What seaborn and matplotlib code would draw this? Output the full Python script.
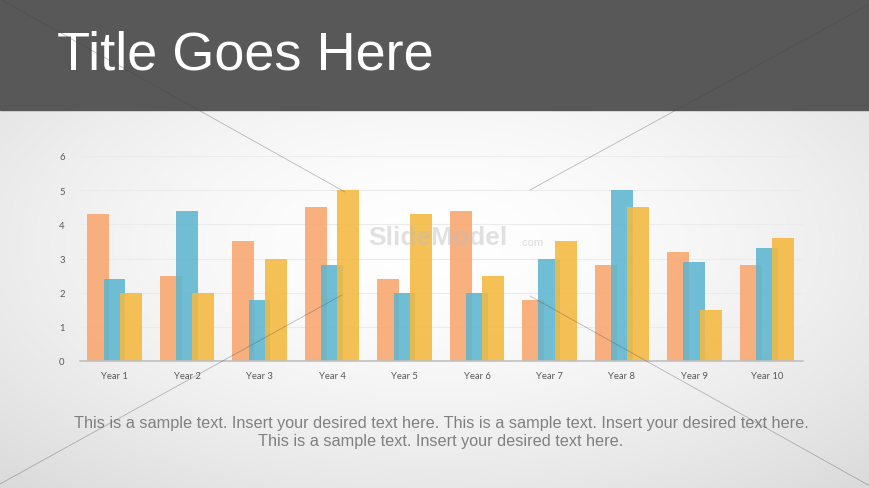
import matplotlib
matplotlib.use("Agg")
import matplotlib.pyplot as plt
from matplotlib.patches import Rectangle
from matplotlib.lines import Line2D
import numpy as np
import pandas as pd
import seaborn as sns

sns.set_theme(style="white")
plt.rcParams['font.family'] = ['Liberation Sans', 'DejaVu Sans']

years = ["Year 1", "Year 2", "Year 3", "Year 4", "Year 5",
         "Year 6", "Year 7", "Year 8", "Year 9", "Year 10"]
series_1 = [4.3, 2.5, 3.5, 4.5, 2.4, 4.4, 1.8, 2.8, 3.2, 2.8]
series_2 = [2.4, 4.4, 1.8, 2.8, 2.0, 2.0, 3.0, 5.0, 2.9, 3.3]
series_3 = [2.0, 2.0, 3.0, 5.0, 4.3, 2.5, 3.5, 4.5, 1.5, 3.6]
y_ticks = [0, 1, 2, 3, 4, 5, 6]

title = "Title Goes Here"
body_1 = ("This is a sample text. Insert your desired text here. "
          "This is a sample text. Insert your desired text here.")
body_2 = "This is a sample text. Insert your desired text here."

df = pd.concat([
    pd.DataFrame({"year": years, "value": series_1, "series": "Series 1"}),
    pd.DataFrame({"year": years, "value": series_2, "series": "Series 2"}),
    pd.DataFrame({"year": years, "value": series_3, "series": "Series 3"}),
])
palette = {"Series 1": "#F9A66E", "Series 2": "#5DB6D0", "Series 3": "#F4B93F"}

fig = plt.figure(figsize=(8.7, 4.89), dpi=100)

# slide background: soft radial gradient
bg = fig.add_axes([0, 0, 1, 1], zorder=0)
gx, gy = np.meshgrid(np.linspace(-1, 1, 300), np.linspace(-1, 1, 200))
r = np.sqrt((gx * 0.9) ** 2 + (gy * 1.0) ** 2)
shade = 1.0 - 0.09 * np.clip(r, 0, 1.4) ** 1.6
bg.imshow(np.dstack([shade] * 3), extent=[0, 1, 0, 1], aspect="auto")
bg.set_xlim(0, 1)
bg.set_ylim(0, 1)
bg.axis("off")

ax = fig.add_axes([80 / 870, 1 - 362 / 489, (803 - 80) / 870, (362 - 157) / 489], zorder=2)
ax.patch.set_alpha(0)

sns.barplot(data=df, x="year", y="value", hue="series", palette=palette,
            width=0.68, dodge=True, alpha=0.88, saturation=1,
            legend=False, ax=ax, errorbar=None)

# bars in the original overlap each other slightly
new_w = 0.303
for p in ax.patches:
    c = p.get_x() + p.get_width() / 2
    p.set_width(new_w)
    p.set_x(c - new_w / 2)
    p.set_linewidth(0)

ax.set_xlim(-0.476, 9.497)
ax.set_ylim(0, 6)
ax.set_yticks(y_ticks)
ax.set_xlabel("")
ax.set_ylabel("")
for yv in y_ticks[1:]:
    ax.axhline(yv, color="#EBEBEB", lw=0.8, zorder=0)
sns.despine(ax=ax, left=True, top=True, right=True)
ax.spines["bottom"].set_color("#BFBFBF")
ax.spines["bottom"].set_linewidth(1.2)
ax.tick_params(axis="both", length=0, labelsize=6.8, labelcolor="#595959")
ax.tick_params(axis="y", pad=11)
ax.tick_params(axis="x", pad=7)
for lab in ax.get_xticklabels() + ax.get_yticklabels():
    lab.set_family(["Lato", "DejaVu Sans"])

# faint watermark
fig.text(0.503, 0.513, "SlideModel", fontsize=19, fontweight="bold", color="#BDBDBD",
         alpha=0.45, ha="center", va="center", zorder=3)
fig.text(0.596, 0.503, ".com", fontsize=8, color="#BDBDBD", alpha=0.5,
         ha="left", va="center", zorder=3)

# header bar
fig.patches.append(Rectangle((0, 1 - 111 / 489), 1, 111 / 489, transform=fig.transFigure,
                             color="#585858", zorder=4))
fig.text(57 / 870, 1 - 56 / 489, title, fontsize=39, color="white",
         ha="left", va="center", zorder=5)

fig.text(441 / 870, 1 - 424 / 489, body_1, fontsize=11.7, color="#808080",
         family=["Liberation Sans Narrow", "Liberation Sans"],
         ha="center", va="center", zorder=5)
fig.text(441 / 870, 1 - 442 / 489, body_2, fontsize=11.7, color="#808080",
         family=["Liberation Sans Narrow", "Liberation Sans"],
         ha="center", va="center", zorder=5)

# thin decorative diagonals, fading out behind the chart centre
segments = [((0, 0), (345, 193)), ((530, 297), (870, 487)),
            ((0, 485), (342, 296)), ((530, 191), (870, 5))]
for (x0, y0), (x1, y1) in segments:
    fig.lines.append(Line2D([x0 / 870, x1 / 870], [1 - y0 / 489, 1 - y1 / 489],
                            transform=fig.transFigure, color="#444444",
                            lw=0.6, alpha=0.35, zorder=6))

fig.savefig("out.png", dpi=100)
